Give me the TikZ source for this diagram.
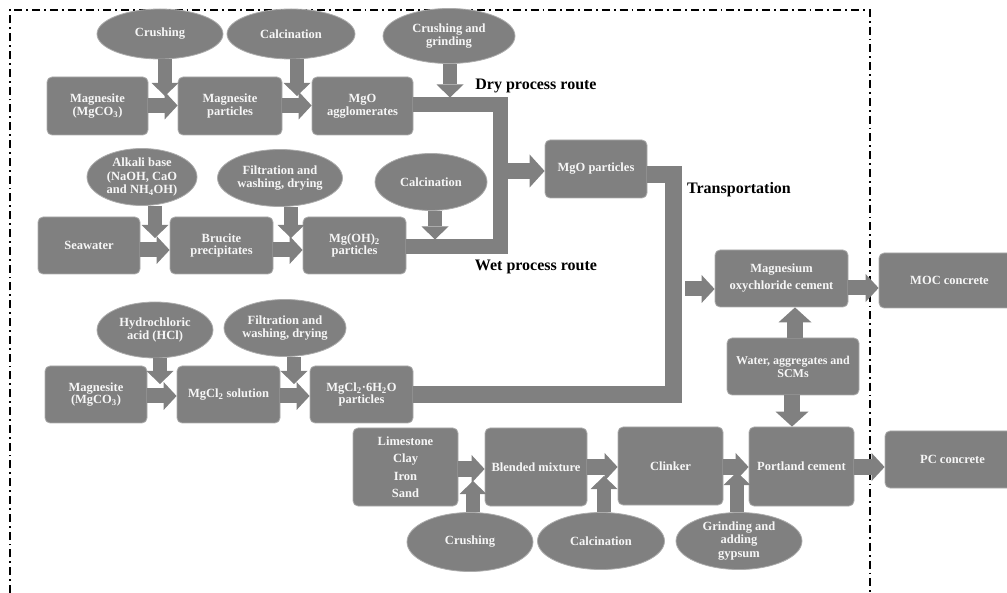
\documentclass[tikz,border=0pt]{standalone}
\usepackage{fontspec}
\setmainfont{Liberation Serif}
\usetikzlibrary{arrows.meta,shapes.geometric}
\definecolor{boxgray}{RGB}{128,128,128}
\definecolor{edgegray}{RGB}{172,172,172}
\definecolor{txt}{RGB}{246,246,246}
\begin{document}
\begin{tikzpicture}[x=1pt,y=-1pt,
  box/.style={draw=edgegray, line width=0.8pt, fill=boxgray, rounded corners=5pt,
    text=txt, font=\fontsize{12.5}{12.5}\selectfont\bfseries, align=center, inner sep=1pt},
  ell/.style={ellipse, draw=edgegray, line width=0.8pt, fill=boxgray,
    text=txt, font=\fontsize{12.5}{13.3}\selectfont\bfseries, align=center, inner sep=0pt},
  route/.style={font=\fontsize{16}{16}\selectfont\bfseries, text=black},
  harrow/.style={draw=boxgray, line width=15pt, line cap=butt,
    -{Triangle[length=13pt,width=28pt,line width=0pt]}},
  varrow/.style={draw=boxgray, line width=14pt, line cap=butt,
    -{Triangle[length=13pt,width=27pt,line width=0pt]}},
  bigarrow/.style={draw=boxgray, line width=16pt, line cap=butt,
    -{Triangle[length=15pt,width=33pt,line width=0pt]}},
  bus/.style={draw=boxgray, line width=15pt, line join=miter, line cap=butt},
  frame/.style={draw=black, line width=2pt, dash pattern=on 8pt off 4pt on 1.8pt off 4pt}
]
\useasboundingbox (0,0) rectangle (1007,593);

% frame
\coordinate (fbl) at (10,593);
\coordinate (ftl) at (10,10);
\coordinate (ftr) at (870,10);
\coordinate (fbr) at (870,593);
\draw[frame] (fbl) -- (ftl) -- (ftr) -- (fbr);

% ---------- boxes ----------
\node[box, minimum width=101pt, minimum height=58pt] (mag1) at (97.5,106) {Magnesite\\(MgCO\textsubscript{3})};
\node[box, minimum width=104pt, minimum height=58pt] (part1) at (230,106) {Magnesite\\particles};
\node[box, minimum width=101pt, minimum height=58pt] (agg) at (362.5,106) {MgO\\agglomerates};

\node[box, minimum width=102pt, minimum height=57pt] (sea) at (89,245.5) {Seawater};
\node[box, minimum width=103pt, minimum height=57pt] (bruc) at (221.5,245.5) {Brucite\\precipitates};
\node[box, minimum width=103pt, minimum height=57pt] (mgoh) at (354.5,245.5) {Mg(OH)\textsubscript{2}\\particles};

\node[box, minimum width=102pt, minimum height=58pt] (mgo) at (596,169) {MgO particles};

\node[box, minimum width=102pt, minimum height=57pt] (mag2) at (96,394.5) {Magnesite\\(MgCO\textsubscript{3})};
\node[box, minimum width=103pt, minimum height=57pt] (mgcl) at (228.5,394.5) {MgCl\textsubscript{2} solution};
\node[box, minimum width=103pt, minimum height=57pt] (mgclp) at (361.5,394.5) {MgCl\textsubscript{2}·6H\textsubscript{2}O\\particles};

\node[box, minimum width=133pt, minimum height=57pt, font=\fontsize{12.5}{17}\selectfont\bfseries] (moc) at (781.5,278.5) {Magnesium\\oxychloride cement};
\node[box, minimum width=141pt, minimum height=55pt] (mocc) at (949.5,280.5) {MOC concrete};
\node[box, minimum width=132pt, minimum height=57pt, font=\fontsize{12}{13}\selectfont\bfseries] (water) at (793,366.5) {Water, aggregates and\\SCMs};

\node[box, minimum width=105pt, minimum height=78pt, font=\fontsize{12.5}{17.5}\selectfont\bfseries] (lime) at (405.5,467) {Limestone\\Clay\\Iron\\Sand};
\node[box, minimum width=102pt, minimum height=78pt] (blend) at (536,467) {Blended mixture};
\node[box, minimum width=105pt, minimum height=78pt] (clink) at (670.5,466) {Clinker};
\node[box, minimum width=105pt, minimum height=79pt] (port) at (801.5,466.5) {Portland cement};
\node[box, minimum width=135pt, minimum height=57pt] (pcc) at (952.5,459.5) {PC concrete};

% ---------- ellipses ----------
\node[ell, minimum width=126pt, minimum height=50pt] (crush1) at (160,34) {Crushing};
\node[ell, minimum width=128pt, minimum height=50pt] (calc1) at (291,34) {Calcination};
\node[ell, minimum width=132pt, minimum height=55pt] (cg) at (449,36) {Crushing and\\grinding};

\node[ell, minimum width=110pt, minimum height=57pt] (alk) at (142,177) {Alkali base\\(NaOH, CaO\\and NH\textsubscript{4}OH)};
\node[ell, minimum width=125pt, minimum height=57pt] (filt1) at (280,178) {Filtration and\\washing, drying};
\node[ell, minimum width=112pt, minimum height=57pt] (calc2) at (431,182) {Calcination};

\node[ell, minimum width=116pt, minimum height=56pt] (hcl) at (155,330) {Hydrochloric\\acid (HCl)};
\node[ell, minimum width=122pt, minimum height=57pt] (filt2) at (285,328) {Filtration and\\washing, drying};

\node[ell, minimum width=126pt, minimum height=59pt] (crush3) at (470,542) {Crushing};
\node[ell, minimum width=127pt, minimum height=57pt] (calc3) at (601,541) {Calcination};
\node[ell, minimum width=126pt, minimum height=57pt] (grind) at (739,541) {Grinding and\\adding\\gypsum};

% ---------- route labels ----------
\node[route] (dryl) at (536,86) {Dry process route};
\node[route] (wetl) at (536,267) {Wet process route};
\node[route] (trl) at (739,190) {Transportation};

% ---------- route buses ----------
\coordinate (dry) at (500.5,105);
\coordinate (wet) at (500.5,247);
\coordinate (dw) at (500.5,171);
\draw[bus] (agg.east |- dry) -- (dry) -- (wet) -- (mgoh.east |- wet);
\draw[bigarrow] (dw) -- (mgo.west |- dw);

\coordinate (tt) at (673,175);
\coordinate (tb) at (673,395);
\coordinate (tr) at (685,289);
\draw[bus, line width=17pt] (mgo.east |- tt) -- (tt) -- (tb) -- (mgclp.east |- tb);
\draw[harrow] (tr) -- (tr -| moc.west);

% ---------- horizontal arrows ----------
\coordinate (r1) at (0,105.5);
\coordinate (r2) at (0,250);
\coordinate (r3) at (0,396);
\coordinate (r4) at (0,469);
\coordinate (r5) at (0,467);
\coordinate (r6) at (0,288);
\draw[harrow] (mag1.east |- r1) -- (part1.west |- r1);
\draw[harrow] (part1.east |- r1) -- (agg.west |- r1);
\draw[harrow] (sea.east |- r2) -- (bruc.west |- r2);
\draw[harrow] (bruc.east |- r2) -- (mgoh.west |- r2);
\draw[harrow] (mag2.east |- r3) -- (mgcl.west |- r3);
\draw[harrow] (mgcl.east |- r3) -- (mgclp.west |- r3);
\draw[harrow] (lime.east |- r4) -- (blend.west |- r4);
\draw[harrow] (blend.east |- r5) -- (clink.west |- r5);
\draw[harrow] (clink.east |- r5) -- (port.west |- r5);
\draw[harrow] (port.east |- r5) -- (pcc.west |- r5);
\draw[harrow] (moc.east |- r6) -- (mocc.west |- r6);

% ---------- vertical arrows ----------
\coordinate (t1) at (165,96);
\coordinate (t2) at (297,96);
\coordinate (t3) at (450,97.5);
\coordinate (t4) at (155,238);
\coordinate (t5) at (291,238);
\coordinate (t6) at (435,239.5);
\coordinate (t7) at (160,384);
\coordinate (t8) at (294,384);
\coordinate (t9) at (473,481);
\coordinate (t10) at (604,476);
\coordinate (t11) at (737,472);
\draw[varrow] (crush1.south -| t1) -- (t1);
\draw[varrow] (calc1.south -| t2) -- (t2);
\draw[varrow] (cg.south -| t3) -- (t3);
\draw[varrow] (alk.south -| t4) -- (t4);
\draw[varrow] (filt1.south -| t5) -- (t5);
\draw[varrow] (calc2.south -| t6) -- (t6);
\draw[varrow] (hcl.south -| t7) -- (t7);
\draw[varrow] (filt2.south -| t8) -- (t8);
\draw[varrow] (crush3.north -| t9) -- (t9);
\draw[varrow] (calc3.north -| t10) -- (t10);
\draw[varrow] (grind.north -| t11) -- (t11);

\coordinate (wu) at (795,0);
\coordinate (wd) at (792,0);
\draw[bigarrow] (water.north -| wu) -- (moc.south -| wu);
\draw[bigarrow] (water.south -| wd) -- (port.north -| wd);
\end{tikzpicture}
\end{document}
